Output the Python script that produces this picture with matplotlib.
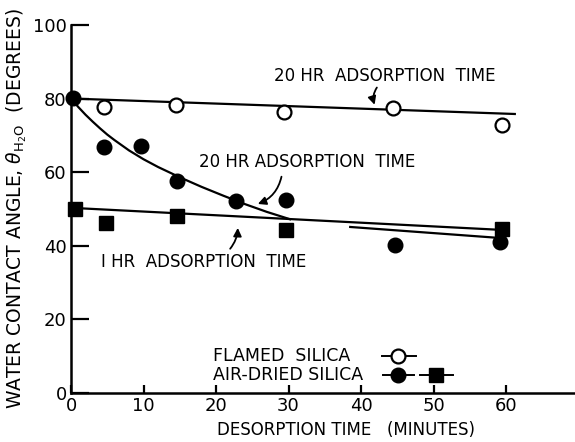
import matplotlib.pyplot as plt

plt.rcParams['font.family'] = ['DejaVu Sans']
plt.rcParams['mathtext.fontset'] = 'dejavusans'

# flamed silica, 20 hr adsorption (open circles)
flamed_t = [4.6, 14.5, 29.4, 44.4, 59.4]
flamed_y = [77.7, 78.3, 76.4, 77.4, 72.8]
flamed_fit_t = [0, 61.2]
flamed_fit_y = [80.0, 75.8]

# air-dried silica, 20 hr adsorption (filled circles)
air20_t = [0.3, 4.6, 9.7, 14.6, 22.8, 29.7, 44.7, 59.2]
air20_y = [80.2, 66.9, 67.2, 57.6, 52.2, 52.4, 40.2, 41.0]
# hand-drawn curve
air20_curve_t = [0, 1, 2, 3, 4, 5, 6, 8, 10, 12, 15, 18, 21, 24, 27, 30.2]
air20_curve_y = [80.0, 77.7, 75.6, 73.7, 71.9, 70.2, 68.7, 65.9, 63.5, 61.4,
                 58.6, 56.0, 53.6, 51.3, 49.2, 47.2]
air20_tail_t = [38.5, 59.2]
air20_tail_y = [45.1, 42.1]

# air-dried silica, 1 hr adsorption (filled squares)
air1_t = [0.5, 4.8, 14.6, 29.7, 59.4]
air1_y = [50.0, 46.2, 48.1, 44.3, 44.6]
air1_fit_t = [0, 59.4]
air1_fit_y = [50.3, 44.3]

xticks = [0, 10, 20, 30, 40, 50, 60]
yticks = [0, 20, 40, 60, 80, 100]

fig = plt.figure(figsize=(5.75, 4.42), dpi=100)
ax = fig.add_axes([0.1235, 0.111, 0.8765, 0.8326])

lw = 1.6
ax.plot(flamed_fit_t, flamed_fit_y, color='black', lw=lw)
ax.plot(air20_curve_t, air20_curve_y, color='black', lw=lw)
ax.plot(air20_tail_t, air20_tail_y, color='black', lw=lw)
ax.plot(air1_fit_t, air1_fit_y, color='black', lw=lw)

ax.plot(flamed_t, flamed_y, 'o', ms=10, mfc='white', mec='black', mew=1.6, clip_on=False)
ax.plot(air20_t, air20_y, 'o', ms=10.5, color='black', clip_on=False)
ax.plot(air1_t, air1_y, 's', ms=9.5, color='black', clip_on=False)

ax.set_xlim(0, 69.5)
ax.set_ylim(0, 100)
ax.spines['top'].set_visible(False)
ax.spines['right'].set_visible(False)
ax.spines['left'].set_linewidth(1.8)
ax.spines['bottom'].set_linewidth(1.8)

ax.set_xticks(xticks)
ax.set_yticks(yticks)
ax.set_xticks([10, 60], minor=True)
ax.tick_params(axis='x', which='major', direction='in', length=6, width=1.6, labelsize=13, pad=3)
ax.tick_params(axis='x', which='minor', direction='in', length=15, width=1.6)
ax.tick_params(axis='y', direction='in', length=13, width=1.6, labelsize=13, pad=3)

ax.set_xlabel('DESORPTION TIME   (MINUTES)', fontsize=12, labelpad=2)
ax.xaxis.set_label_coords(0.546, -0.075)
ax.set_ylabel(r'WATER CONTACT ANGLE, $\theta_{\mathregular{H_2O}}$  (DEGREES)', fontsize=13.5, labelpad=3)

txt = dict(fontsize=12, ha='center', va='center')
ax.text(43.3, 86.0, '20 HR  ADSORPTION  TIME', **txt)
ax.text(32.6, 62.8, '20 HR ADSORPTION  TIME', **txt)
ax.text(18.3, 35.6, 'I HR  ADSORPTION  TIME', **txt)

arrow = dict(arrowstyle='-|>', color='black', lw=1.3, mutation_scale=12)
ax.annotate('', xy=(42.0, 77.6), xytext=(42.4, 83.6),
            arrowprops=dict(connectionstyle='arc3,rad=0.3', **arrow))
ax.annotate('', xy=(25.4, 51.1), xytext=(29.1, 59.5),
            arrowprops=dict(connectionstyle='arc3,rad=-0.3', **arrow))
ax.annotate('', xy=(23.0, 45.6), xytext=(21.7, 38.6),
            arrowprops=dict(connectionstyle='arc3,rad=0.2', **arrow))

# legend drawn by hand
ax.text(19.6, 10.0, 'FLAMED  SILICA', fontsize=12.5, ha='left', va='center')
ax.text(19.6, 4.9, 'AIR-DRIED SILICA', fontsize=12.5, ha='left', va='center')
ax.plot([42.9, 47.6], [10.0, 10.0], color='black', lw=1.4)
ax.plot([45.1], [10.0], 'o', ms=10, mfc='white', mec='black', mew=1.6)
ax.plot([43.0, 47.3], [4.9, 4.9], color='black', lw=1.4)
ax.plot([45.1], [4.9], 'o', ms=10.5, color='black')
ax.plot([48.1, 52.7], [4.9, 4.9], color='black', lw=1.4)
ax.plot([50.4], [4.9], 's', ms=9.5, color='black')

fig.savefig('out.png', dpi=100)
